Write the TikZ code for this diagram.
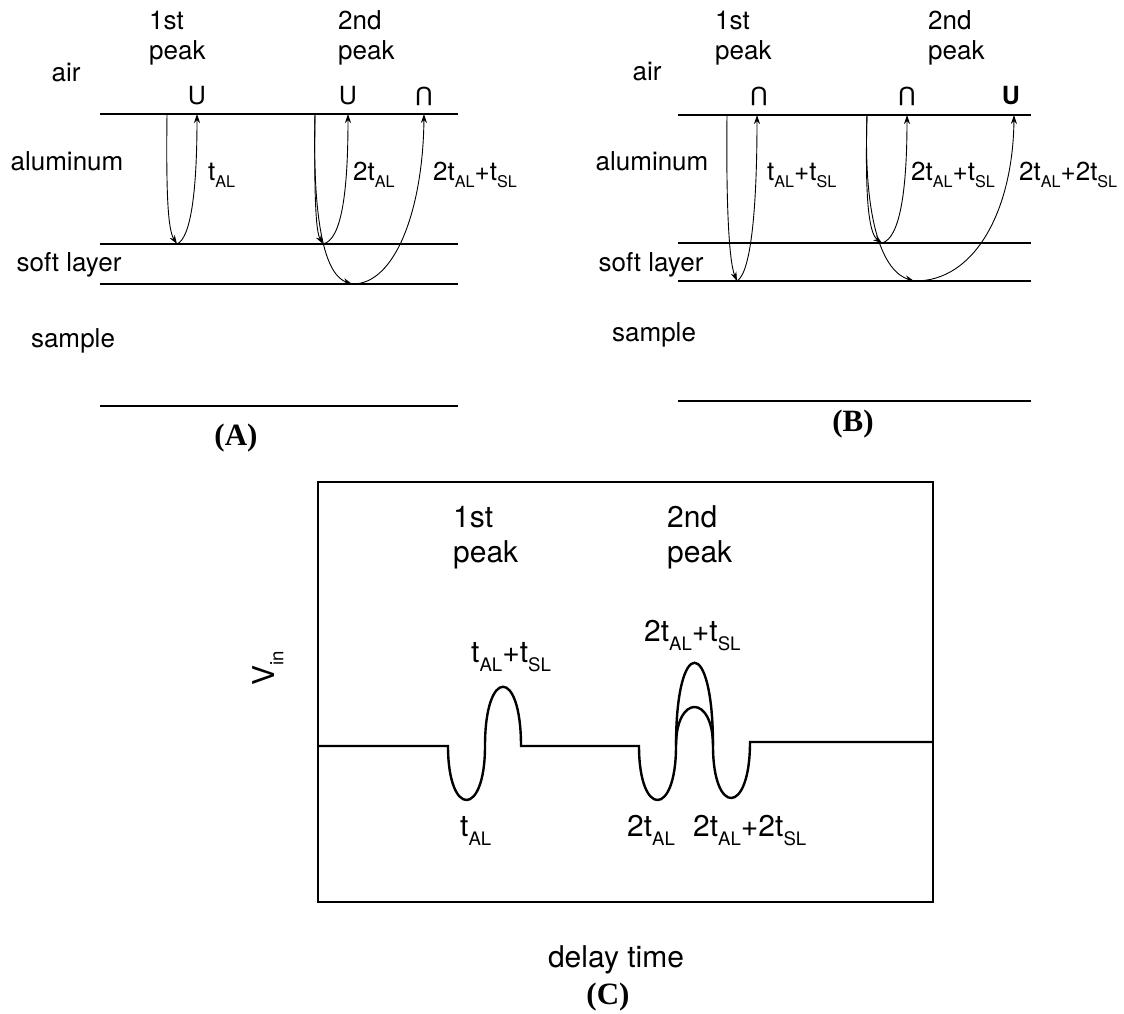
\documentclass[tikz,border=0pt]{standalone}
\usepackage{fontspec}
\usepackage{graphicx}
\setmainfont{TeX Gyre Heros}
\newfontfamily\tnr{Liberation Serif}
\usetikzlibrary{arrows.meta}
\newcommand\lo[1]{\raisebox{-0.3em}{\scalebox{0.62}{#1}}}
\begin{document}
\begin{tikzpicture}[x=1pt,y=-1pt,
  lay/.style={line width=1.8pt},
  ray/.style={line width=0.9pt,-{Stealth[length=9pt,width=6pt]}},
  wave/.style={line width=2.4pt},
  frame/.style={line width=1.5pt},
  tA/.style={font=\fontsize{26}{30}\selectfont,inner sep=0pt},
  tC/.style={font=\fontsize{30}{34}\selectfont,inner sep=0pt},
  capt/.style={font=\tnr\bfseries\fontsize{31}{34}\selectfont,inner sep=0pt},
  sym/.style={font=\fontsize{25}{30}\selectfont,inner sep=0pt}]
\useasboundingbox (0,0) rectangle (1124,1014);
\fill[white] (0,0) rectangle (1124,1014);

% ---------------- Panel A ----------------
\foreach \yy in {114,244,284,406} \draw[lay] (100,\yy) -- (458,\yy);
\node[tA,anchor=base] (Aair) at (66,82) {air};
\node[tA,anchor=base] (Aal) at (67,170) {aluminum};
\node[tA,anchor=base] (Asl) at (69,271) {soft layer};
\node[tA,anchor=base] (Asa) at (73,347) {sample};
\node[tA,anchor=base west] (Ap1a) at (149,30) {1st};
\node[tA,anchor=base west] (Ap1b) at (149,60) {peak};
\node[tA,anchor=base west] (Ap2a) at (338,30) {2nd};
\node[tA,anchor=base west] (Ap2b) at (338,60) {peak};
\node[sym,anchor=base] (AU1) at (197,105) {U};
\node[sym,anchor=base] (AU2) at (348,105) {U};
\node[sym,rotate=180,anchor=base] (AN3) at (424,88) {U};
\coordinate (a1s) at (167,114);
\coordinate (a1b) at (177,244);
\coordinate (a1e) at (197,114);
\coordinate (a2s) at (315,114);
\coordinate (a2b) at (323,244);
\coordinate (a2e) at (348,114);
\coordinate (a3b) at (352,284);
\coordinate (a3e) at (424,114);
\draw[ray] (a1s) .. controls (166,195) and (168,230) .. (a1b);
\draw[ray] (a1b) .. controls (191,238) and (197,190) .. (a1e);
\draw[ray] (a2s) .. controls (314,200) and (316,232) .. (a2b);
\draw[ray] (a2b) .. controls (342,240) and (348,190) .. (a2e);
\draw[ray] (a2s) .. controls (312,235) and (328,276) .. (a3b);
\draw[ray] (a3b) .. controls (395,285) and (423,210) .. (a3e);
\node[tA,anchor=base west] (Al1) at (208,180) {t\lo{AL}};
\node[tA,anchor=base west] (Al2) at (353,180) {2t\lo{AL}};
\node[tA,anchor=base west] (Al3) at (433,180) {2t\lo{AL}+t\lo{SL}};
\node[capt] (Acap) at (236,438) {(A)};

% ---------------- Panel B ----------------
\foreach \yy in {115,243,281,401} \draw[lay] (678,\yy) -- (1031,\yy);
\node[tA,anchor=base] (Bair) at (647,81) {air};
\node[tA,anchor=base] (Bal) at (652,170) {aluminum};
\node[tA,anchor=base] (Bsl) at (651,271) {soft layer};
\node[tA,anchor=base] (Bsa) at (654,341) {sample};
\node[tA,anchor=base west] (Bp1a) at (715,30) {1st};
\node[tA,anchor=base west] (Bp1b) at (715,60) {peak};
\node[tA,anchor=base west] (Bp2a) at (928,30) {2nd};
\node[tA,anchor=base west] (Bp2b) at (928,60) {peak};
\node[sym,rotate=180,anchor=base] (BN1) at (759,88) {U};
\node[sym,rotate=180,anchor=base] (BN2) at (907,88) {U};
\node[sym,anchor=base,font=\bfseries\fontsize{25}{30}\selectfont] (BU3) at (1011,105) {U};
\coordinate (b1s) at (727,115);
\coordinate (b1b) at (737,281);
\coordinate (b1e) at (757,115);
\coordinate (b2s) at (867,115);
\coordinate (b2b) at (882,243);
\coordinate (b2e) at (907,115);
\coordinate (b3b) at (914,281);
\coordinate (b3e) at (1014,115);
\draw[ray] (b1s) .. controls (726,205) and (729,262) .. (b1b);
\draw[ray] (b1b) .. controls (752,272) and (757,200) .. (b1e);
\draw[ray] (b2s) .. controls (865,192) and (868,233) .. (b2b);
\draw[ray] (b2b) .. controls (901,238) and (907,185) .. (b2e);
\draw[ray] (b2s) .. controls (863,225) and (884,272) .. (b3b);
\draw[ray] (b3b) .. controls (975,282) and (1013,210) .. (b3e);
\node[tA,anchor=base west] (Bl1) at (767,180) {t\lo{AL}+t\lo{SL}};
\node[tA,anchor=base west] (Bl2) at (911,180) {2t\lo{AL}+t\lo{SL}};
\node[tA,anchor=base west] (Bl3) at (1019,180) {2t\lo{AL}+2t\lo{SL}};
\node[capt] (Bcap) at (853,424) {(B)};

% ---------------- Panel C ----------------
\draw[frame] (318,482) rectangle (933,902);
\draw[wave] (318,746) -- (448,746)
  .. controls (448,818) and (485,818) .. (485,746)
  .. controls (485,667) and (521,667) .. (521,746)
  -- (639,746)
  .. controls (639,818) and (676,818) .. (676,746)
  .. controls (676,635) and (713,635) .. (713,746)
  .. controls (713,816) and (750,816) .. (750,742)
  -- (933,742);
\draw[wave] (676,746) .. controls (676,694) and (713,694) .. (713,746);
\node[tC,anchor=base west] (Cp1a) at (453,527) {1st};
\node[tC,anchor=base west] (Cp1b) at (453,562) {peak};
\node[tC,anchor=base west] (Cp2a) at (667,527) {2nd};
\node[tC,anchor=base west] (Cp2b) at (667,562) {peak};
\node[tC,anchor=base west] (Cl1) at (471,662) {t\lo{AL}+t\lo{SL}};
\node[tC,anchor=base west] (Cl2) at (644,641) {2t\lo{AL}+t\lo{SL}};
\node[tC,anchor=base west] (Cl3) at (460,836) {t\lo{AL}};
\node[tC,anchor=base west] (Cl4) at (627,836) {2t\lo{AL}};
\node[tC,anchor=base west] (Cl5) at (693,836) {2t\lo{AL}+2t\lo{SL}};
\node[tC,rotate=90] (Vin) at (268,668) {V\lo{in}};
\node[tC,anchor=base] (Cdt) at (616,967) {delay time};
\node[capt] (Ccap) at (608,997) {(C)};
\end{tikzpicture}
\end{document}
